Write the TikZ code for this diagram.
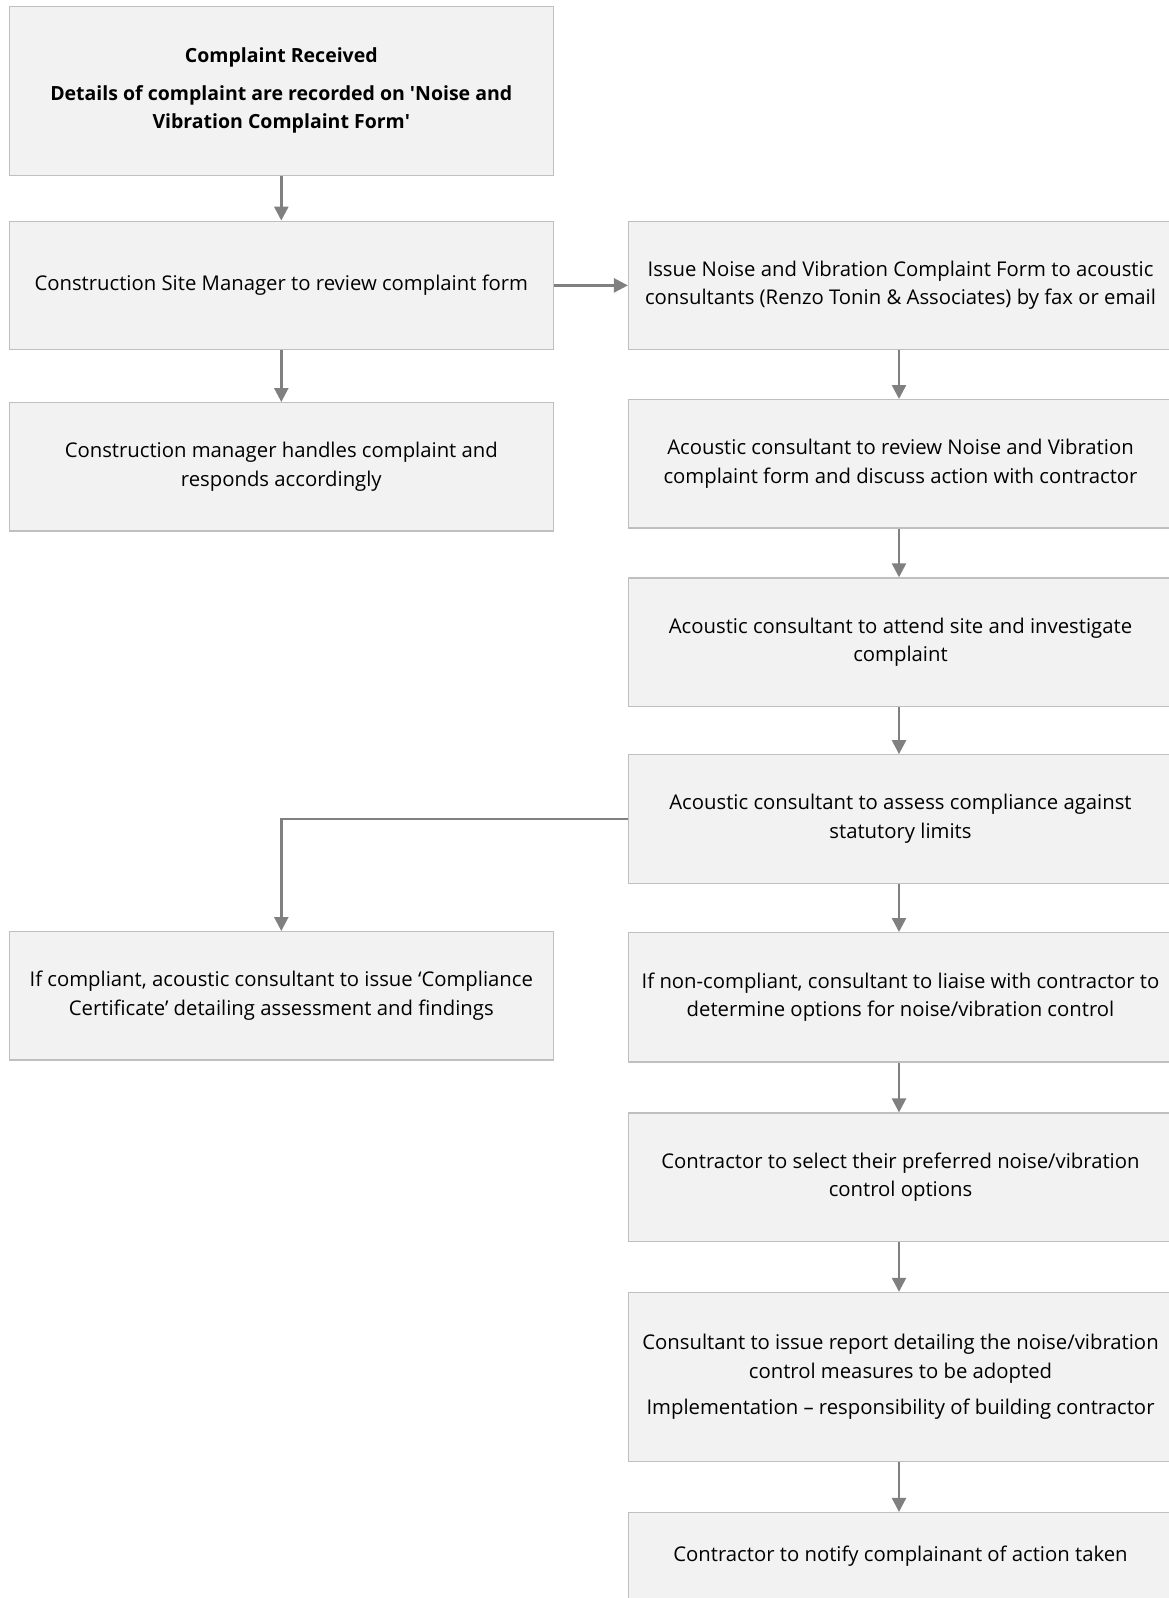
\documentclass[tikz,border=0pt]{standalone}
\usepackage{fontspec}
\setmainfont{Open Sans}
\usetikzlibrary{arrows.meta}
\definecolor{boxfill}{HTML}{F2F2F2}
\definecolor{boxline}{HTML}{BFBFBF}
\definecolor{flowline}{HTML}{808080}

\begin{document}
\begin{tikzpicture}[x=1pt,y=-1pt,
    stepbox/.style={draw=boxline,fill=boxfill,line width=1.2pt,minimum width=544pt,minimum height=128.4pt,
      align=center,inner sep=0pt,font=\fontsize{20.3pt}{28.5pt}\selectfont},
    flow/.style={draw=flowline,line width=2.5pt,-{Triangle[width=14pt,length=14pt]}}]
\clip (0,0) rectangle (1169,1598);

% left column
\node[stepbox,minimum height=169.2pt,font=\fontsize{19.5pt}{28.5pt}\selectfont\bfseries] (rcv) at (281.3,90.7)
  {Complaint Received\\[9pt]Details of complaint are recorded on \textquotesingle Noise and\\Vibration Complaint Form\textquotesingle};
\node[stepbox] (review) at (281.3,285.4) {Construction Site Manager to review complaint form};
\node[stepbox] (handle) at (281.3,466.8) {Construction manager handles complaint and\\responds accordingly};
\node[stepbox] (comp) at (281.3,995.8) {If compliant, acoustic consultant to issue `Compliance\\Certificate' detailing assessment and findings};

% right column
\node[stepbox] (issue) at (900.5,285.4) {Issue Noise and Vibration Complaint Form to acoustic\\consultants (Renzo Tonin \& Associates) by fax or email};
\node[stepbox] (discuss) at (900.5,463.8) {Acoustic consultant to review Noise and Vibration\\complaint form and discuss action with contractor};
\node[stepbox] (attend) at (900.5,642.1) {Acoustic consultant to attend site and investigate\\complaint};
\node[stepbox] (assess) at (900.5,818.9) {Acoustic consultant to assess compliance against\\statutory limits};
\node[stepbox,minimum height=129.4pt] (nonc) at (900.5,997.3) {If non-compliant, consultant to liaise with contractor to\\determine options for noise/vibration control};
\node[stepbox] (select) at (900.5,1177.2) {Contractor to select their preferred noise/vibration\\control options};
\node[stepbox,minimum height=169.2pt] (report) at (900.5,1377) {Consultant to issue report detailing the noise/vibration\\control measures to be adopted\\[8pt]Implementation -- responsibility of building contractor};
\node[stepbox,minimum height=87pt] (notify) at (900.5,1556) {Contractor to notify complainant of action taken};

% connectors
\draw[flow] (rcv) -- (review);
\draw[flow] (review) -- (handle);
\draw[flow] (review) -- (issue);
\draw[flow] (issue.south -| 899,0) -- (discuss.north -| 899,0);
\draw[flow] (discuss.south -| 899,0) -- (attend.north -| 899,0);
\draw[flow] (attend.south -| 899,0) -- (assess.north -| 899,0);
\draw[flow] (assess.south -| 899,0) -- (nonc.north -| 899,0);
\draw[flow] (nonc.south -| 899,0) -- (select.north -| 899,0);
\draw[flow] (select.south -| 899,0) -- (report.north -| 899,0);
\draw[flow] (report.south -| 899,0) -- (notify.north -| 899,0);
\draw[flow] (assess.west) -| (comp.north);
\end{tikzpicture}
\end{document}
